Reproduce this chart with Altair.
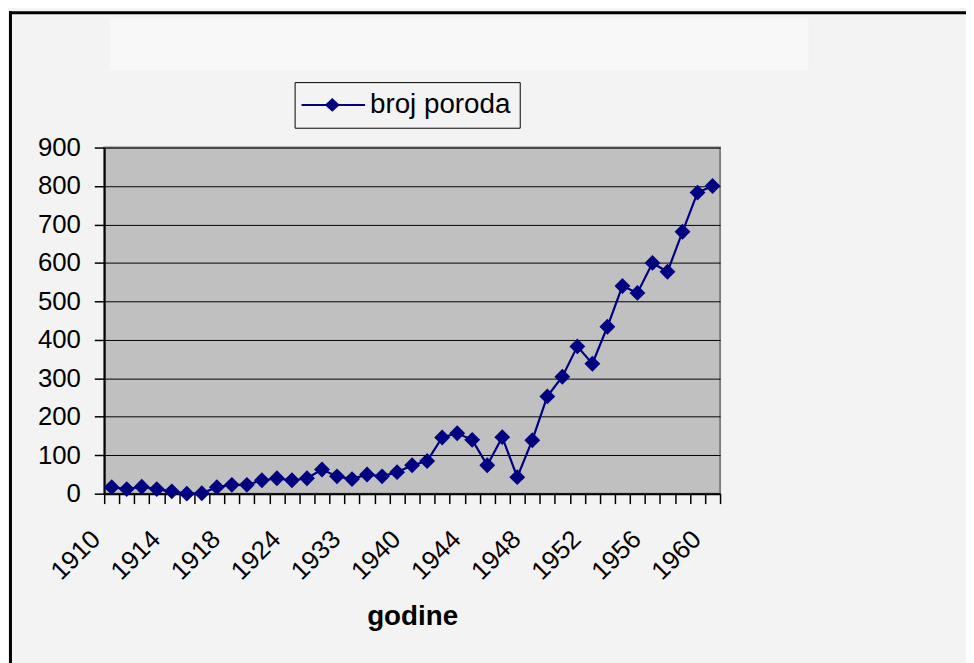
import altair as alt
import pandas as pd

# ---- data ----
years = [1910, 1911, 1912, 1913, 1914, 1915, 1916, 1917, 1918, 1919,
         1920, 1922, 1924, 1926, 1928, 1930, 1933, 1935, 1937, 1938,
         1940, 1941, 1942, 1943, 1944, 1945, 1946, 1947, 1948, 1949,
         1950, 1951, 1952, 1953, 1954, 1955, 1956, 1957, 1958, 1959, 1960]
births = [17, 12, 18, 12, 6, 0, 1, 17, 23, 23,
          35, 40, 35, 40, 63, 45, 38, 50, 45, 56,
          74, 85, 146, 157, 140, 74, 147, 43, 139, 253,
          304, 383, 338, 434, 540, 522, 600, 577, 681, 783, 800]
labeled_years = ["1910", "1914", "1918", "1924", "1933", "1940",
                 "1944", "1948", "1952", "1956", "1960"]
y_ticks = [0, 100, 200, 300, 400, 500, 600, 700, 800, 900]
series_name = "broj poroda"

year_str = [str(y) for y in years]
df = pd.DataFrame({"godina": year_str, "broj": births, "serija": [series_name] * len(years)})

NAVY = "#000080"
FONT = "Liberation Sans"
W, H = 621, 349
PAD_L, PAD_T = 97, 138
CANVAS_W, CANVAS_H = 966, 655

xscale = alt.Scale(type="band", domain=year_str, paddingInner=0, paddingOuter=0)
yscale = alt.Scale(domain=[0, 900], nice=False, zero=True)

y_axis = alt.Axis(values=y_ticks, title=None, labelFont=FONT, labelFontSize=26,
                  labelColor="black", labelPadding=14, tickSize=10, tickColor="black",
                  tickWidth=1.5, domainColor="black", domainWidth=2,
                  grid=True, gridColor="black", gridWidth=1)

x_ticks_axis = alt.Axis(orient="bottom", tickBand="extent", labels=False, title=None,
                        grid=False, domainColor="black", domainWidth=2,
                        tickColor="black", tickSize=10, tickWidth=1.5)

x_label_axis = alt.Axis(orient="bottom", values=labeled_years, ticks=False, domain=False,
                        grid=False, bandPosition=0.5,
                        labelAngle=-45, labelAlign="right", labelBaseline="alphabetic",
                        labelOffset=-10, labelPadding=47,
                        labelFont=FONT, labelFontSize=26, labelColor="black",
                        labelOverlap=False, labelFlush=False,
                        title="godine", titleFont=FONT, titleFontSize=28,
                        titleFontWeight="bold", titleColor="black",
                        titleBaseline="alphabetic", titleY=132)

base = alt.Chart(df)

line = base.mark_line(color=NAVY, strokeWidth=2.2).encode(
    x=alt.X("godina:O", scale=xscale, sort=None, axis=x_ticks_axis),
    y=alt.Y("broj:Q", scale=yscale, axis=y_axis),
)

# legend symbol: a short line with a diamond on it
legend_path = ("M-1.143,-0.0714H3.429V0.0714H-1.143Z "
               "M1.071,-0.5L1.607,0L1.071,0.5L0.535,0Z")

points = base.mark_point(shape="diamond", filled=True, size=256, opacity=1).encode(
    x=alt.X("godina:O", scale=xscale, sort=None, axis=x_label_axis),
    y=alt.Y("broj:Q", scale=yscale, axis=y_axis),
    color=alt.Color("serija:N", scale=alt.Scale(range=[NAVY]),
                    legend=alt.Legend(title=None, orient="none", legendX=192, legendY=-66,
                                      symbolType=legend_path, symbolSize=784,
                                      symbolFillColor=NAVY, symbolStrokeWidth=0,
                                      labelFont=FONT, labelFontSize=28, labelColor="black",
                                      labelOffset=39, padding=9,
                                      strokeColor="black", fillColor="#f3f3f3")),
)

one = pd.DataFrame({"k": [0]})
title_area = alt.Chart(one).mark_rect(color="#f8f8f8").encode(
    x=alt.value(6), x2=alt.value(710), y=alt.value(-131), y2=alt.value(-78))
border_left = alt.Chart(one).mark_rule(color="black", strokeWidth=3).encode(
    x=alt.value(-94.5), y=alt.value(-137.5), y2=alt.value(H + 400))
border_top = alt.Chart(one).mark_rule(color="black", strokeWidth=3).encode(
    x=alt.value(-96), x2=alt.value(W + 400), y=alt.value(-136))

chart = alt.layer(title_area, border_left, border_top, line, points).resolve_axis(
    x="independent"
).properties(
    width=W, height=H,
    autosize=alt.AutoSizeParams(type="none"),
    padding={"left": PAD_L, "top": PAD_T, "right": CANVAS_W - PAD_L - W,
             "bottom": CANVAS_H - PAD_T - H},
    background="#f3f3f3",
).configure_view(
    fill="#c0c0c0", stroke="#808080", strokeWidth=2
)

chart.save("out.html", embed_options={"renderer": "svg", "actions": False})
